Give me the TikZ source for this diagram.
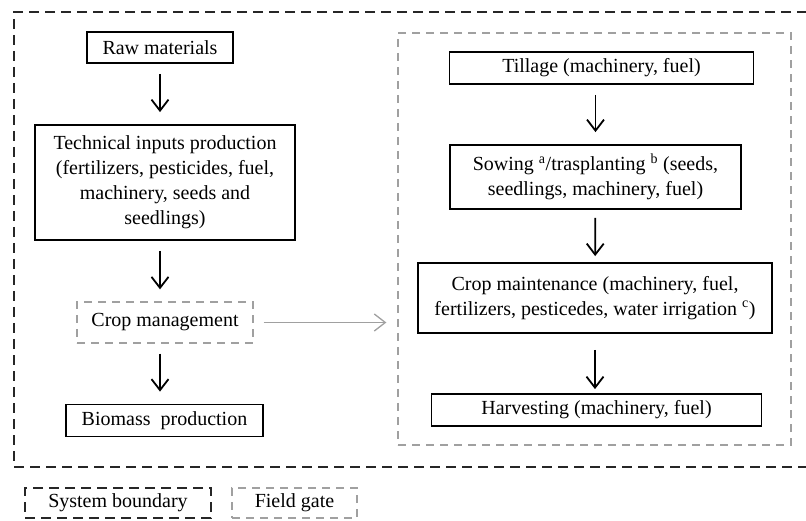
\documentclass[tikz,border=0pt]{standalone}
\usepackage{fontspec}
\setmainfont{Liberation Serif}
\usetikzlibrary{arrows.meta}
\definecolor{gatecol}{RGB}{160,160,160}
\begin{document}
\begin{tikzpicture}[x=1pt,y=-1pt,
    box/.style={draw,line width=1.8pt,inner sep=0pt,align=center,font=\fontsize{20}{25}\selectfont},
    gatebox/.style={draw=gatecol,dash pattern=on 8pt off 6pt,line width=1.3pt,inner sep=0pt,font=\fontsize{20}{25}\selectfont},
    sysbox/.style={draw=black!85,dash pattern=on 10pt off 6pt,line width=2.3pt,inner sep=0pt,font=\fontsize{20}{25}\selectfont},
    flow/.style={-{Straight Barb[length=11pt,width=17pt]},line width=1.8pt,shorten <=10pt,shorten >=12pt}]
    \useasboundingbox (0,0) rectangle (806,521);
    \clip (0,0) rectangle (806,521);
    \node[sysbox,minimum width=801pt,minimum height=455pt] (boundary) at (414.5,239.5) {};
    \node[gatebox,minimum width=393pt,minimum height=412pt] (gate) at (594.5,239) {};
    \node[box,minimum width=146pt,minimum height=31pt] (raw) at (160,47.5) {Raw materials};
    \node[box,minimum width=260pt,minimum height=115pt] (tech) at (165,182.5) {Technical inputs production\\(fertilizers, pesticides, fuel,\\machinery, seeds and\\seedlings)};
    \node[gatebox,minimum width=176pt,minimum height=41pt] (crop) at (165,322.5) {Crop management};
    \node[box,minimum width=197pt,minimum height=32pt] (biomass) at (164.5,420.5) {Biomass\ \ production};
    \node[box,minimum width=304pt,minimum height=32pt] (tillage) at (601.5,68) {Tillage (machinery, fuel)};
    \node[box,minimum width=291pt,minimum height=64pt] (sowing) at (595.5,177) {Sowing \textsuperscript{a}/trasplanting \textsuperscript{b} (seeds,\\seedlings, machinery, fuel)};
    \node[box,minimum width=354pt,minimum height=70pt] (maint) at (595,298) {Crop maintenance (machinery, fuel,\\fertilizers, pesticedes, water irrigation \textsuperscript{c})};
    \node[box,minimum width=330pt,minimum height=32pt] (harvest) at (596.5,410) {Harvesting (machinery, fuel)};
    \node[sysbox,minimum width=186pt,minimum height=30pt] (syslegend) at (118,503) {System boundary};
    \node[gatebox,minimum width=125pt,minimum height=30pt] (gatelegend) at (294.5,503) {Field gate};
    \draw[flow] (raw) -- (raw |- tech.north);
    \draw[flow] (raw |- tech.south) -- (raw |- crop.north);
    \draw[flow] (raw |- crop.south) -- (raw |- biomass.north);
    \draw[flow] (tillage.south -| sowing) -- (sowing.north);
    \draw[flow,shorten <=8pt,shorten >=6pt] (sowing) -- (maint);
    \draw[flow,shorten <=16pt,shorten >=4pt] (maint) -- (maint |- harvest.north);
    \draw[flow,draw=gatecol,line width=1.3pt,shorten >=11pt] (crop) -- (crop -| gate.west);
\end{tikzpicture}
\end{document}
